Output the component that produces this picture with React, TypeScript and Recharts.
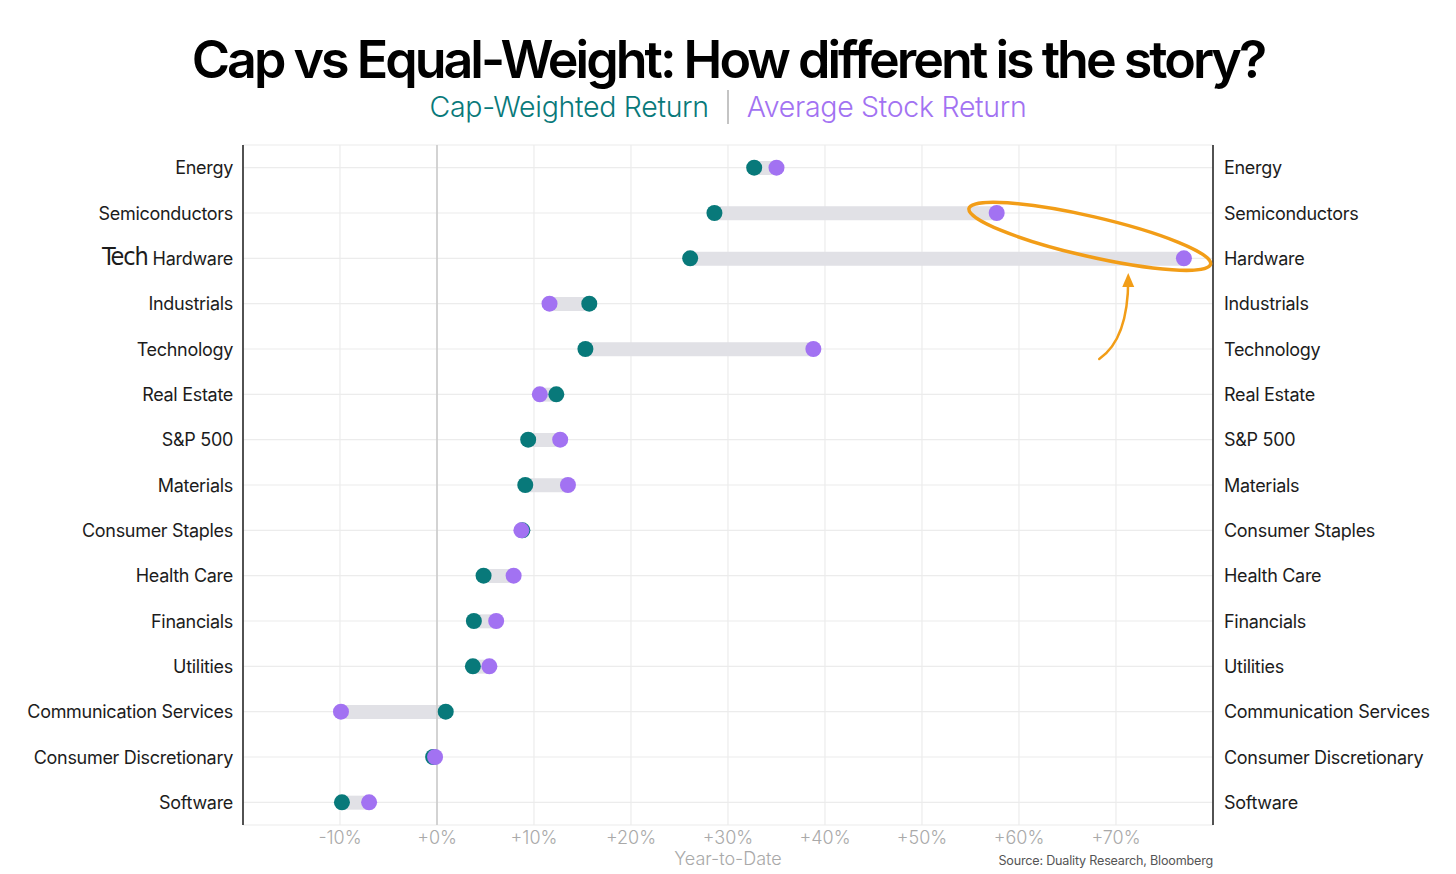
import React from "react";
import {
  ComposedChart,
  Bar,
  Line,
  XAxis,
  YAxis,
  CartesianGrid,
  ReferenceLine,
  ReferenceDot,
  Label,
} from "recharts";

document.body.style.margin = "0";

const sectors = [
  "Energy",
  "Semiconductors",
  "Hardware",
  "Industrials",
  "Technology",
  "Real Estate",
  "S&P 500",
  "Materials",
  "Consumer Staples",
  "Health Care",
  "Financials",
  "Utilities",
  "Communication Services",
  "Consumer Discretionary",
  "Software",
];

// Cap-weighted return per sector (%)
const capWeighted = [32.7, 28.6, 26.1, 15.7, 15.3, 12.3, 9.4, 9.1, 8.8, 4.8, 3.8, 3.7, 0.9, -0.4, -9.8];
// Average (equal-weight) stock return per sector (%)
const avgStock = [35.0, 57.7, 77.0, 11.6, 38.8, 10.6, 12.7, 13.5, 8.7, 7.9, 6.1, 5.4, -9.9, -0.2, -7.0];

const xTicks = [-10, 0, 10, 20, 30, 40, 50, 60, 70];

const TEAL = "#08797a";
const PURPLE = "#a272f2";
const ORANGE = "#f29d17";

const data = sectors.map((name, i) => ({
  name,
  cap: capWeighted[i],
  avg: avgStock[i],
  range: [Math.min(capWeighted[i], avgStock[i]), Math.max(capWeighted[i], avgStock[i])],
}));

const fmtPct = (v: number) => `${v >= 0 ? "+" : ""}${v}%`;

const LeftTick = ({ x, y, payload }: any) => (
  <text
    x={x}
    y={y}
    dy={6.5}
    textAnchor="end"
    fill="#1c1c1c"
    fontSize={18}
    letterSpacing={-0.3}
    fontFamily="Inter, sans-serif"
  >
    {payload.value === "Hardware" ? (
      <>
        <tspan fontFamily="'Liberation Sans Narrow', 'DejaVu Sans Condensed', sans-serif" fontSize={25} letterSpacing={-1}>
          Tech
        </tspan>
        <tspan> Hardware</tspan>
      </>
    ) : (
      payload.value
    )}
  </text>
);

const RightTick = ({ x, y, payload }: any) => (
  <text
    x={x}
    y={y}
    dy={6.5}
    textAnchor="start"
    fill="#1c1c1c"
    fontSize={18}
    letterSpacing={-0.3}
    fontFamily="Inter, sans-serif"
  >
    {payload.value}
  </text>
);

// orange ring around the two biggest equal-weight outliers
const Ring = ({ cx, cy }: any) => (
  <ellipse
    cx={cx}
    cy={cy - 22}
    rx={124}
    ry={20}
    fill="none"
    stroke={ORANGE}
    strokeWidth={3.5}
    transform={`rotate(13 ${cx} ${cy - 22})`}
  />
);

const Arrow = ({ cx, cy }: any) => (
  <g>
    <path
      d={`M ${cx - 9} ${cy + 10} Q ${cx + 20} ${cy - 10} ${cx + 20} ${cy - 70}`}
      fill="none"
      stroke={ORANGE}
      strokeWidth={2.5}
      strokeLinecap="round"
    />
    <path d={`M ${cx + 14} ${cy - 62} L ${cx + 20} ${cy - 76} L ${cx + 26} ${cy - 62} Z`} fill={ORANGE} />
  </g>
);

export default function App() {
  return (
    <div style={{ position: "relative", width: 1456, height: 874, background: "#fff", fontFamily: "Inter, sans-serif" }}>
      <div
        style={{
          position: "absolute",
          top: 28,
          left: 0,
          width: 1456,
          textAlign: "center",
          fontSize: 52,
          fontWeight: 600,
          letterSpacing: -3,
          color: "#000",
          lineHeight: "64px",
        }}
      >
        Cap vs Equal-Weight: How different is the story?
      </div>
      <div
        style={{
          position: "absolute",
          top: 88,
          left: 0,
          width: 1456,
          display: "flex",
          justifyContent: "center",
          alignItems: "center",
          fontSize: 28.5,
          fontWeight: 300,
          letterSpacing: -0.3,
          lineHeight: "38px",
        }}
      >
        <span style={{ color: TEAL }}>Cap-Weighted Return</span>
        <span style={{ display: "inline-block", width: 2, height: 34, background: "#c4c4c4", margin: "0 18px" }} />
        <span style={{ color: PURPLE }}>Average Stock Return</span>
      </div>

      <div style={{ position: "absolute", top: 0, left: 0 }}>
        <ComposedChart
          width={1456}
          height={874}
          data={data}
          layout="vertical"
          margin={{ top: 145, right: 0, bottom: 0, left: 0 }}
        >
          <CartesianGrid yAxisId="left" stroke="#ececec" strokeWidth={1.2} />
          <XAxis
            type="number"
            domain={[-20, 80]}
            ticks={xTicks}
            tickFormatter={fmtPct}
            axisLine={false}
            tickLine={false}
            tickSize={0}
            tickMargin={6}
            height={49}
            tick={{ fontSize: 18, fill: "#a9a9a9", fontFamily: "Inter, sans-serif", fontWeight: 300 }}
          >
            <Label
              value="Year-to-Date"
              position="insideBottom"
              offset={9}
              style={{ fontSize: 18, fill: "#a9a9a9", fontFamily: "Inter, sans-serif", fontWeight: 300 }}
            />
          </XAxis>
          <YAxis
            yAxisId="left"
            type="category"
            dataKey="name"
            width={243}
            axisLine={{ stroke: "#1c1c1c", strokeWidth: 1.5 }}
            tickLine={false}
            tickSize={0}
            tickMargin={10}
            tick={<LeftTick />}
            interval={0}
          />
          <YAxis
            yAxisId="right"
            orientation="right"
            type="category"
            dataKey="name"
            width={243}
            axisLine={{ stroke: "#1c1c1c", strokeWidth: 1.5 }}
            tickLine={false}
            tickSize={0}
            tickMargin={11}
            tick={<RightTick />}
            interval={0}
          />
          <ReferenceLine yAxisId="left" x={0} stroke="#c8c8c8" strokeWidth={1.5} />
          <Bar yAxisId="left" dataKey="range" barSize={14} fill="#e1e1e6" isAnimationActive={false} />
          <Line
            yAxisId="left"
            dataKey="cap"
            stroke="none"
            dot={{ r: 8, fill: TEAL, stroke: "none" }}
            activeDot={false}
            isAnimationActive={false}
          />
          <Line
            yAxisId="left"
            dataKey="avg"
            stroke="none"
            dot={{ r: 8, fill: PURPLE, stroke: "none" }}
            activeDot={false}
            isAnimationActive={false}
          />
          <ReferenceDot yAxisId="left" x={67.3} y="Hardware" r={0} ifOverflow="visible" shape={<Ring />} />
          <ReferenceDot yAxisId="left" x={69.2} y="Technology" r={0} ifOverflow="visible" shape={<Arrow />} />
        </ComposedChart>
      </div>

      <div
        style={{
          position: "absolute",
          right: 1456 - 1213,
          top: 853,
          fontSize: 12.6,
          color: "#555",
          letterSpacing: -0.2,
        }}
      >
        Source: Duality Research, Bloomberg
      </div>
    </div>
  );
}
